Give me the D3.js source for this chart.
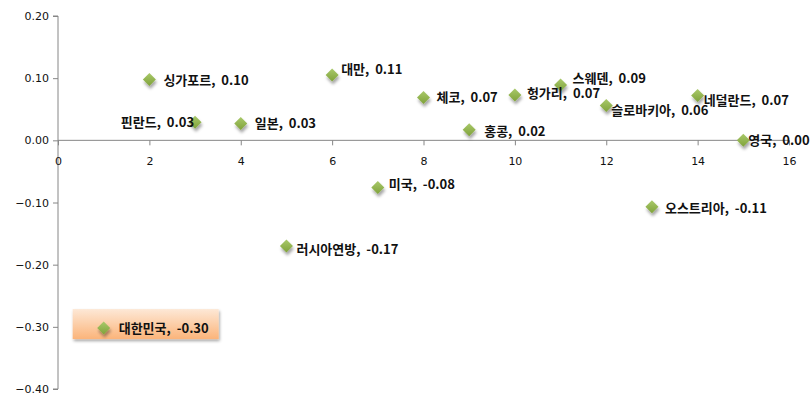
<!DOCTYPE html>
<html>
<head>
<meta charset="utf-8">
<script src="https://cdn.jsdelivr.net/npm/d3@7/dist/d3.min.js"></script>
<style>
  html, body { margin: 0; padding: 0; background: #fff; }
  svg { display: block; }
  .tick text { font-family: "DejaVu Sans", sans-serif; font-size: 11px; fill: #111; }
  .lbl { font-family: "Noto Sans CJK KR", sans-serif; font-size: 13px; font-weight: bold; fill: #111; white-space: pre; }
</style>
</head>
<body>
<svg id="chart" width="811" height="405"></svg>
<script>
// ---- data ----
const countries = ["대한민국","싱가포르","핀란드","일본","러시아연방","대만","미국","체코","홍콩","헝가리","스웨덴","슬로바키아","오스트리아","네덜란드","영국"];
const xValues   = [1, 2, 3, 4, 5, 6, 7, 8, 9, 10, 11, 12, 13, 14, 15];
const yValues   = [-0.302, 0.098, 0.029, 0.027, -0.170, 0.105, -0.076, 0.069, 0.017, 0.073, 0.089, 0.056, -0.107, 0.072, 0.000];
const valueLabels = ["-0.30","0.10","0.03","0.03","-0.17","0.11","-0.08","0.07","0.02","0.07","0.09","0.06","-0.11","0.07","0.00"];
const xTicks = [0, 2, 4, 6, 8, 10, 12, 14, 16];
const yTicks = [0.20, 0.10, 0.00, -0.10, -0.20, -0.30, -0.40];

// ---- layout (label placement relative to each point, px) ----
const labelDx = [15, 14, -1, 14, 10, 9, 11, 13, 15, 12, 12, 5, 13, 6, 5];
const labelDy = [0, 1, 0, 0, 3, -6, -3, 0, 2, -2, -7, 5, 2, 5, 0];
const labelAnchor = ["start","start","end","start","start","start","start","start","start","start","start","start","start","start","start"];
const highlightIndex = 0;

const svg = d3.select("#chart");
const margin = { left: 58, right: 22, top: 16, bottom: 16 };

const x = d3.scaleLinear().domain([0, 16]).range([margin.left, 789]);
const y = d3.scaleLinear().domain([-0.40, 0.20]).range([389, 16]);

const defs = svg.append("defs");
const sh = defs.append("filter").attr("id", "shadow").attr("x", "-50%").attr("y", "-50%").attr("width", "200%").attr("height", "200%");
sh.append("feDropShadow").attr("dx", 1).attr("dy", 3).attr("stdDeviation", 1.6).attr("flood-color", "#000").attr("flood-opacity", 0.35);
const bsh = defs.append("filter").attr("id", "boxshadow").attr("x", "-20%").attr("y", "-30%").attr("width", "140%").attr("height", "170%");
bsh.append("feDropShadow").attr("dx", 1).attr("dy", 2).attr("stdDeviation", 1.5).attr("flood-color", "#000").attr("flood-opacity", 0.35);
const mg = defs.append("linearGradient").attr("id", "mgrad").attr("x1", 0).attr("y1", 0).attr("x2", 0).attr("y2", 1);
mg.append("stop").attr("offset", "0%").attr("stop-color", "#a9c96a");
mg.append("stop").attr("offset", "100%").attr("stop-color", "#7fa23a");
const bg = defs.append("linearGradient").attr("id", "bgrad").attr("x1", 0).attr("y1", 0).attr("x2", 0).attr("y2", 1);
bg.append("stop").attr("offset", "0%").attr("stop-color", "#fde8d6");
bg.append("stop").attr("offset", "100%").attr("stop-color", "#fbb47a");

// y axis
const yAxis = d3.axisLeft(y).tickValues(yTicks).tickFormat(d3.format(".2f")).tickSize(5).tickPadding(4);
const gy = svg.append("g").attr("transform", `translate(${x(0)},0)`).call(yAxis);
gy.selectAll("path, line").attr("stroke", "#868686");
gy.select(".domain").attr("d", `M-5,${y(0.20)}H0V${y(-0.40)}H-5`);

// x axis at y=0
const xAxis = d3.axisBottom(x).tickValues(xTicks).tickFormat(d3.format("d")).tickSize(5).tickPadding(12);
const gx = svg.append("g").attr("transform", `translate(0,${y(0)})`).call(xAxis);
gx.selectAll("path, line").attr("stroke", "#868686");
gx.select(".domain").attr("d", `M${x(0)},0H${x(16)}`);
gx.selectAll(".tick text").attr("dy", "0.71em");

// highlight box
const hb = { x: x(xValues[highlightIndex]) - 31, y: y(yValues[highlightIndex]) - 19, w: 146, h: 30 };
svg.append("rect").attr("x", hb.x).attr("y", hb.y).attr("width", hb.w).attr("height", hb.h)
  .attr("fill", "url(#bgrad)").attr("filter", "url(#boxshadow)");

// markers
const s = 6.5;
svg.append("g").selectAll("path").data(xValues).join("path")
  .attr("d", (d, i) => {
    const cx = x(d), cy = y(yValues[i]);
    return `M${cx},${cy - s}L${cx + s},${cy}L${cx},${cy + s}L${cx - s},${cy}Z`;
  })
  .attr("fill", "url(#mgrad)")
  .attr("filter", "url(#shadow)");

// labels
svg.append("g").selectAll("text").data(xValues).join("text")
  .attr("class", "lbl")
  .attr("x", (d, i) => x(d) + labelDx[i])
  .attr("y", (d, i) => y(yValues[i]) + labelDy[i])
  .attr("dy", "0.35em")
  .attr("text-anchor", (d, i) => labelAnchor[i])
  .text((d, i) => `${countries[i]},\u00a0\u00a0${valueLabels[i]}`);
</script>
</body>
</html>
